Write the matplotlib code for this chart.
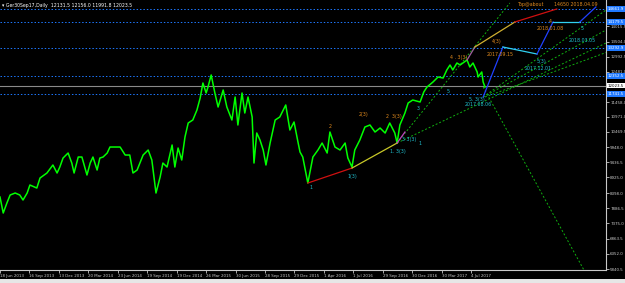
import matplotlib
matplotlib.use("Agg")
import matplotlib.pyplot as plt

# daily closes (bar index, price)
bars = [0, 7, 15, 22, 33, 43, 50, 59, 65, 80, 87, 102, 115, 124, 130, 137, 148, 156, 161, 170,
        178, 189, 196, 202, 211, 217, 224, 233, 239, 250, 261, 272, 282, 289, 298, 311, 322, 330,
        339, 348, 354, 363, 374, 380, 387, 395, 402, 409, 419, 428, 435, 441, 448, 452, 459, 467,
        474, 485, 493, 504, 511, 517, 526, 532, 539, 548, 552, 558, 565, 572, 578, 587, 598, 608,
        621, 630, 639, 648, 652, 658, 669, 680, 691, 700, 711, 717, 728, 739, 750, 756, 765, 771,
        782, 793, 804, 815, 826, 837, 847, 858, 863, 869, 880, 887, 897, 913, 921, 928, 941, 952,
        963, 971, 978, 984, 993, 1000, 1006, 1015, 1021, 1028, 1037, 1039, 1047, 1050, 1054]
close = [8266, 7727, 8064, 8334, 8401, 8334, 8165, 8401, 8671, 8569, 8907, 9075, 9345, 9075, 9277,
         9580, 9749, 9412, 9075, 9614, 9614, 9008, 9412, 9614, 9176, 9580, 9614, 9749, 9951, 9951,
         9951, 9681, 9681, 9075, 9176, 9681, 9850, 9513, 8401, 8940, 9412, 9277, 10019, 9277, 9917,
         9513, 10288, 10760, 10861, 11198, 11602, 12108, 11771, 11973, 12378, 11771, 11299, 11872,
         11299, 10861, 11636, 10693, 11771, 11097, 11636, 10962, 9412, 10423, 10187, 9850, 9345,
         10086, 10861, 10962, 11367, 10524, 10794, 10086, 9783, 9614, 8738, 9614, 9850, 10086, 9749,
         10457, 9951, 9850, 10086, 9580, 9277, 9850, 10187, 10625, 10693, 10457, 10591, 10423, 10760,
         10423, 10086, 10693, 11097, 11434, 11535, 11468, 11805, 11973, 12142, 12310, 12276, 12546,
         12715, 12546, 12782, 12715, 12782, 12883, 12647, 12782, 12479, 12310, 12479, 12142, 11973]

date_labels = ['18 Jun 2013', '16 Sep 2013', '13 Dec 2013', '20 Mar 2014', '23 Jun 2014',
               '19 Sep 2014', '19 Dec 2014', '26 Mar 2015', '30 Jun 2015', '28 Sep 2015',
               '29 Dec 2015', '1 Apr 2016', '1 Jul 2016', '29 Sep 2016', '30 Dec 2016',
               '30 Mar 2017', '4 Jul 2017']
bars_per_label = 64

price_ticks = [5840.5, 6352.0, 6863.5, 7375.0, 7886.5, 8398.0, 8925.0, 9436.5, 9948.0,
               10469.5, 10971.0, 11458.0, 12481.0, 12992.5, 13504.0, 14015.5]

level_prices = [14602, 14164, 13287, 12344, 11737]
level_labels = ['14661.9', '14179.5', '13292.9', '12352.5', '11741.5']
last_price = 12023.5

# wave / projection segments: (bar0, price0, bar1, price1, colour)
wave_segments = [
    (669, 8738, 765, 9243, '#d01010'),
    (765, 9243, 863, 10086, '#c8c828'),
    (863, 10086, 880, 10457, '#c040c0'),
    (1015, 12883, 1032, 13321, '#a060a0'),
    (1032, 13321, 1119, 14164, '#d0b030'),
    (1119, 14164, 1210, 14602, '#d01010'),
    (1050, 11636, 1093, 13321, '#2040ff'),
    (1093, 13321, 1167, 13085, '#30d0f0'),
    (1167, 13085, 1202, 14164, '#2040ff'),
    (1202, 14164, 1260, 14164, '#30d0f0'),
    (1260, 14164, 1295, 14669, '#2040ff'),
]

# dashed trend/fan lines
fan_lines = [
    (863, 10086, 1108, 14804),
    (863, 10086, 1317, 13456),
    (1050, 11636, 1317, 14568),
    (1050, 11636, 1317, 13894),
    (1054, 11636, 1317, 13135),
    (1050, 11973, 1269, 5806),
]

orange = '#e08a1e'
cyan = '#20c0d0'
wave_labels = [
    (676, 8603, '1', cyan), (717, 10659, '2', orange), (765, 8974, '1(3)', cyan),
    (791, 11030, '2(3)', orange), (856, 10996, '2  3(3)', orange), (865, 9816, '1. 3(3)', cyan),
    (889, 10221, '3 3(3)', cyan), (913, 10086, '1', cyan), (908, 11265, '3', cyan),
    (997, 12984, '4 . 3(3)', orange), (974, 11805, '5', cyan), (1037, 11569, '5. 3(3)', cyan),
    (1039, 11367, '2017.08.06', cyan), (1080, 13490, '4(3)', orange),
    (1087, 13085, '2017.09.15', orange), (1176, 12816, '5(3)', cyan),
    (1169, 12580, '2017.12.01', cyan), (1195, 14175, '4', orange),
    (1197, 13928, '2018.01.08', orange), (1265, 13928, '5', cyan),
    (1265, 13557, '2018.03.05', cyan), (1154, 14737, 'Top@about', orange),
    (1252, 14737, '14650 2018.04.09', orange),
]

fig = plt.figure(figsize=(6.25, 2.83), dpi=100, facecolor='black')
ax = fig.add_axes([0, 13 / 283, 606 / 625, 270 / 283], facecolor='black')
ax.set_xlim(0, 1317)
ax.set_ylim(5807, 14905)

for p in level_prices:
    ax.axhline(p, color='#1e78ff', linestyle=(0, (1.5, 2)), linewidth=0.7)
ax.axhline(last_price, color='#8a8a8a', linewidth=0.8)

for x0, y0, x1, y1 in fan_lines:
    ax.plot([x0, x1], [y0, y1], color='#10b010', linestyle=(0, (2, 2)), linewidth=0.7)

ax.plot(bars, close, color='#00ff00', linewidth=1.1)

for x0, y0, x1, y1, c in wave_segments:
    ax.plot([x0, x1], [y0, y1], color=c, linewidth=0.9)

for x, y, s, c in wave_labels:
    ax.text(x, y, s, color=c, fontsize=3.4, ha='center', va='center')

# axes styling in the platform look
for side in ['left', 'top']:
    ax.spines[side].set_visible(False)
for side in ['right', 'bottom']:
    ax.spines[side].set_color('#c8c8c8')
    ax.spines[side].set_linewidth(0.8)

ax.set_xticks([i * bars_per_label for i in range(len(date_labels))])
ax.set_xticklabels(date_labels, ha='left')
ax.yaxis.tick_right()
ax.set_yticks(price_ticks)
ax.set_yticklabels([f'{v:.1f}' for v in price_ticks])
ax.tick_params(colors='#c8c8c8', labelsize=2.9, length=2, width=0.6, pad=1)

for p, lab in zip(level_prices, level_labels):
    ax.text(1.003, p, lab, transform=ax.get_yaxis_transform(), fontsize=2.9, color='white',
            va='center', ha='left', clip_on=False,
            bbox=dict(facecolor='#1e78ff', edgecolor='none', pad=0.5))
ax.text(1.003, last_price, f'{last_price:.1f}', transform=ax.get_yaxis_transform(), fontsize=2.9,
        color='black', va='center', ha='left', clip_on=False,
        bbox=dict(facecolor='white', edgecolor='none', pad=0.5))

fig.text(2 / 625, 1 - 5 / 283, '\u25be Ger30Sep17,Daily  12131.5 12156.0 11991.8 12023.5',
         fontsize=3.3, color='white', va='center')
fig.patches.append(plt.Rectangle((0, 0), 1, 4 / 283, transform=fig.transFigure,
                                 facecolor='#e6e6e6', edgecolor='none'))

fig.savefig('out.png', dpi=100, facecolor='black')
